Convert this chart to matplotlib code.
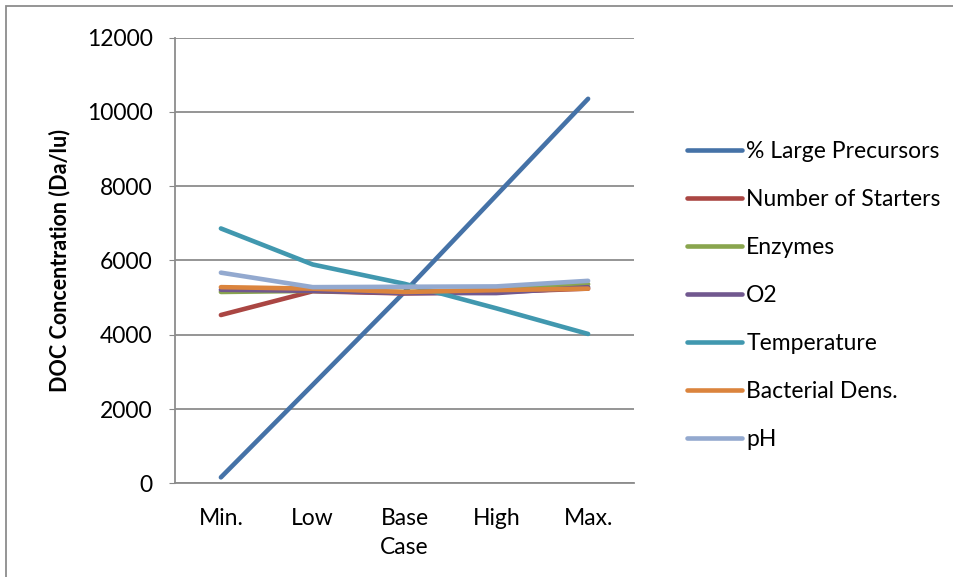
import matplotlib.pyplot as plt
from matplotlib.patches import Rectangle

# data
categories = ["Min.", "Low", "Base\nCase", "High", "Max."]
large_precursors = [160, 2650, 5150, 7750, 10350]
num_starters = [4530, 5170, 5110, 5150, 5240]
enzymes = [5150, 5180, 5150, 5200, 5360]
o2 = [5210, 5180, 5120, 5120, 5280]
temperature = [6860, 5890, 5370, 4710, 4020]
bacterial_dens = [5280, 5240, 5150, 5200, 5240]
ph = [5670, 5280, 5290, 5300, 5450]

yticks = [0, 2000, 4000, 6000, 8000, 10000, 12000]

plt.rcParams['font.family'] = ['Lato', 'DejaVu Sans']

fig = plt.figure(figsize=(9.54, 5.77), dpi=100)
ax = fig.add_axes([175/954, 1 - 483.3/577, 459/954, 445.8/577])

x = range(len(categories))
lw = 3.3
ax.plot(x, large_precursors, color="#4572A7", lw=lw, label="% Large Precursors", solid_capstyle="round")
ax.plot(x, num_starters, color="#AA4643", lw=lw, label="Number of Starters", solid_capstyle="round")
ax.plot(x, enzymes, color="#89A54E", lw=lw, label="Enzymes", solid_capstyle="round")
ax.plot(x, o2, color="#71588F", lw=lw, label="O2", solid_capstyle="round")
ax.plot(x, temperature, color="#4198AF", lw=lw, label="Temperature", solid_capstyle="round")
ax.plot(x, bacterial_dens, color="#DB843D", lw=lw, label="Bacterial Dens.", solid_capstyle="round")
ax.plot(x, ph, color="#93A9CF", lw=lw, label="pH", solid_capstyle="round")

ax.set_xlim(-0.5, 4.5)
ax.set_ylim(0, 12000)
ax.set_yticks(yticks)
ax.set_xticks(list(x))
ax.set_xticklabels(categories, fontsize=16.5, linespacing=1.45)
ax.tick_params(axis='y', labelsize=16.5, length=4, color="#888888", pad=12)
ax.tick_params(axis='x', length=0, pad=18)
ax.yaxis.grid(True, color="#8c8c8c", lw=1.3)
ax.set_axisbelow(True)
for s in ["top", "right"]:
    ax.spines[s].set_visible(False)
for s in ["left", "bottom"]:
    ax.spines[s].set_color("#8c8c8c")
    ax.spines[s].set_linewidth(1.3)

ax.set_ylabel("DOC Concentration (Da/lu)", fontsize=15.5, fontweight="bold", labelpad=12)

leg = ax.legend(loc="upper left", bbox_to_anchor=(666/954, 1 - 120/577), bbox_transform=fig.transFigure,
                frameon=False, fontsize=16.5, handlelength=2.4, handletextpad=0.2, labelspacing=1.18)

# outer chart border
fig.patches.append(Rectangle((6/954, -0.1), 1.2, 1 - 6/577 + 0.1, transform=fig.transFigure,
                             fill=False, edgecolor="#8c8c8c", lw=1.3))

fig.savefig("out.png", dpi=100)
